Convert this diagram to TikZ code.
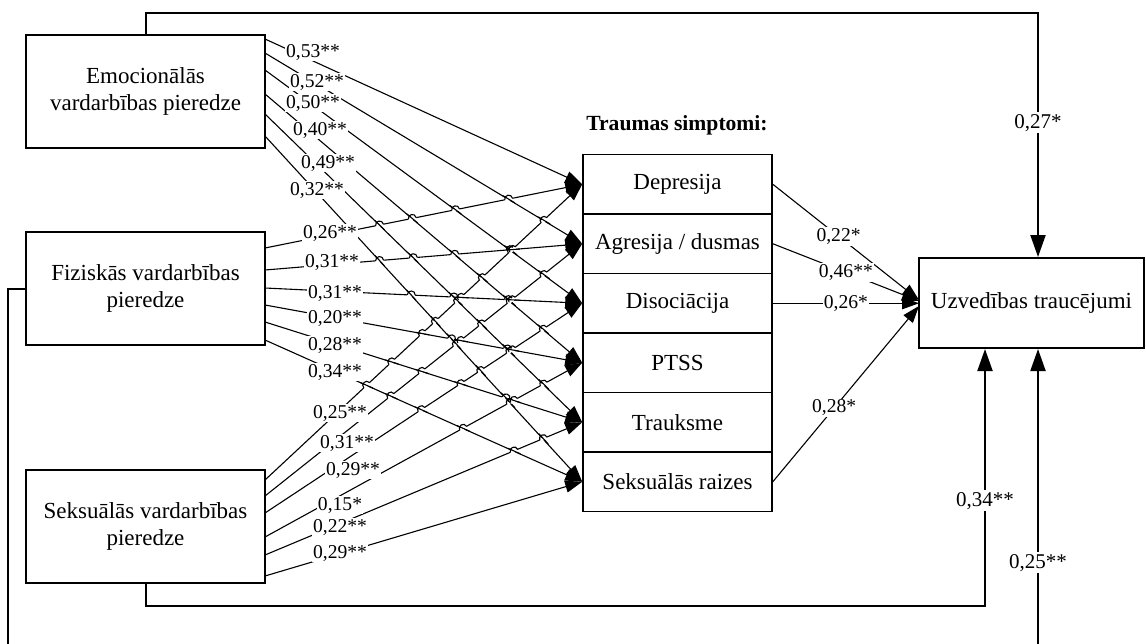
\documentclass[tikz,border=0pt]{standalone}
\usepackage{fontspec}
\setmainfont{Liberation Serif}
\usetikzlibrary{arrows.meta,calc}
\def\Elist{39/184.25,53/243.75,70/303.25,94/362.75,114/422.25,136/481.75}
\def\Flist{248/184.25,270/243.75,288/303.25,305/362.75,322/422.25,340/481.75}
\def\Slist{480/184.25,496/243.75,513/303.25,537/362.75,555/422.25,576/481.75}
\newcommand\hopsover[2]{%
 \foreach \hya/\hta in #1{%
  \foreach \hyb/\htb in #2{%
   \pgfmathsetmacro\hma{(\hta-\hya)/318}%
   \pgfmathsetmacro\hmb{(\htb-\hyb)/318}%
   \pgfmathtruncatemacro\hok{abs(\hyb-\hya)<300*abs(\hma-\hmb)}%
   \ifnum\hok=1
     \pgfmathsetmacro\hopt{(\hyb-\hya)/(\hma-\hmb)}%
     \pgfmathtruncatemacro\hin{and(\hopt>8,\hopt<298)}%
     \ifnum\hin=1
       \pgfmathsetmacro\hpx{265+\hopt}%
       \pgfmathsetmacro\hpy{\hyb+\hmb*\hopt}%
       \pgfmathsetmacro\hnb{sqrt(1+\hmb*\hmb)}%
       \pgfmathsetmacro\hux{4/\hnb}%
       \pgfmathsetmacro\huy{4*\hmb/\hnb}%
       \pgfmathsetmacro\hnx{5.33*\hmb/\hnb}%
       \pgfmathsetmacro\hny{-5.33/\hnb}%
       \pgfmathsetmacro\hna{sqrt(1+\hma*\hma)}%
       \pgfmathsetmacro\hvx{7/\hna}%
       \pgfmathsetmacro\hvy{7*\hma/\hna}%
       \draw[white,line width=1.5pt] ({\hpx-(\hux)},{\hpy-(\huy)}) -- ({\hpx+(\hux)},{\hpy+(\huy)});
       \draw[conn] ({\hpx-(\hvx)},{\hpy-(\hvy)}) -- ({\hpx+(\hvx)},{\hpy+(\hvy)});
       \draw[conn] ({\hpx-(\hux)},{\hpy-(\huy)}) .. controls ({\hpx-(\hux)+(\hnx)},{\hpy-(\huy)+(\hny)}) and ({\hpx+(\hux)+(\hnx)},{\hpy+(\huy)+(\hny)}) .. ({\hpx+(\hux)},{\hpy+(\huy)});
     \fi
   \fi
 }}}
\begin{document}
\begin{tikzpicture}[x=0.5pt,y=-0.5pt,
 srcbox/.style={draw,line width=1pt,minimum width=119.5pt,minimum height=56.5pt,align=center,inner sep=2pt,font=\fontsize{11.5}{13.5}\selectfont},
 symbox/.style={draw,line width=0.8pt,minimum width=94.5pt,minimum height=29.75pt,inner sep=1pt,font=\fontsize{11.5}{13.5}\selectfont},
 conn/.style={line width=0.55pt},
 tipL/.style={-{Triangle[length=8.5pt,width=6pt]}},
 fb/.style={line width=1pt,-{Triangle[length=11pt,width=7.5pt]}},
 lab/.style={fill=white,inner sep=0.6pt,font=\fontsize{9.8}{10}\selectfont},
 labR/.style={fill=white,inner sep=1pt,font=\fontsize{10.5}{11}\selectfont}]
\useasboundingbox (0,0) rectangle (1146,643);

% boxes
\node[srcbox] (emo) at (145.5,91.5) {Emocionālās\\vardarbības pieredze};
\node[srcbox] (fiz) at (145.5,288.5) {Fiziskās vardarbības\\pieredze};
\node[srcbox] (sex) at (145.5,526.5) {Seksuālās vardarbības\\pieredze};
\node[font=\bfseries\fontsize{10.8}{12}\selectfont] (title) at (677,125) {Traumas simptomi:};
\node[symbox] (dep) at (677.5,184.25) {Depresija};
\node[symbox] (agr) at (677.5,243.75) {Agresija / dusmas};
\node[symbox] (dis) at (677.5,303.25) {Disociācija};
\node[symbox] (pts) at (677.5,362.75) {PTSS};
\node[symbox] (tra) at (677.5,422.25) {Trauksme};
\node[symbox] (sek) at (677.5,481.75) {Seksuālās raizes};
\node[srcbox,minimum width=112.5pt,minimum height=45pt] (uzv) at (1031.5,303) {Uzvedības traucējumi};

% left connectors
\foreach \yy/\tg [count=\k] in {39/dep,53/agr,70/dis,94/pts,114/tra,136/sek}{
  \coordinate (e\k) at (265,\yy);
  \draw[conn,tipL] (e\k) -- (\tg.west);
}
\foreach \yy/\tg [count=\k] in {248/dep,270/agr,288/dis,305/pts,322/tra,340/sek}{
  \coordinate (f\k) at (265,\yy);
  \draw[conn,tipL] (f\k) -- (\tg.west);
}
\foreach \yy/\tg [count=\k] in {480/dep,496/agr,513/dis,537/pts,555/tra,576/sek}{
  \coordinate (s\k) at (265,\yy);
  \draw[conn,tipL] (s\k) -- (\tg.west);
}
% line hops
\hopsover{\Elist}{\Flist}
\hopsover{\Elist}{\Slist}
\hopsover{\Flist}{\Slist}

% labels on left connectors
\foreach \x/\y/\lb [count=\k] in {313/52/{0,53**},317/82/{0,52**},313/103/{0,50**},320/130/{0,40**},328/163/{0,49**},317/190/{0,32**}}{
  \node[lab] (le\k) at (\x,\y) {\lb};
}
\foreach \x/\y/\lb [count=\k] in {330/233/{0,26**},332/262/{0,31**},335/293/{0,31**},335/318/{0,20**},335/345/{0,28**},335/372/{0,34**}}{
  \node[lab] (lf\k) at (\x,\y) {\lb};
}
\foreach \x/\y/\lb [count=\k] in {340/413/{0,25**},347/443/{0,31**},353/470/{0,29**},340/505/{0,15*},340/527/{0,22**},340/553/{0,29**}}{
  \node[lab] (ls\k) at (\x,\y) {\lb};
}

% symptoms to outcome
\coordinate (u1) at (919,300);
\coordinate (u2) at (919,301);
\coordinate (u3) at (919,303.25);
\coordinate (u4) at (919,306);
\draw[conn,tipL] (dep.east) -- (u1) node[lab,pos=0.45]{0,22*};
\draw[conn,tipL] (agr.east) -- (u2) node[lab,pos=0.5]{0,46**};
\draw[conn,tipL] (dis.east) -- (u3) node[lab,pos=0.5]{0,26*};
\draw[conn,tipL] (sek.east) -- (u4) node[lab,pos=0.42]{0,28*};

% direct paths
\coordinate (t1) at (145.5,13);
\coordinate (t2) at (1038,13);
\draw[fb] (emo.north) -- (t1) -- (t2) -- (t2 |- uzv.north) node[labR,pos=0.45]{0,27*};
\coordinate (g1) at (8,288.5);
\coordinate (g2) at (8,646);
\coordinate (g3) at (1038,646);
\draw[fb] (fiz.west) -- (g1) -- (g2) -- (g3) -- (g3 |- uzv.south) node[labR,pos=0.28]{0,25**};
\coordinate (h1) at (145.5,606);
\coordinate (h2) at (985,606);
\draw[fb] (sex.south) -- (h1) -- (h2) -- (h2 |- uzv.south) node[labR,pos=0.41]{0,34**};
\end{tikzpicture}
\end{document}
